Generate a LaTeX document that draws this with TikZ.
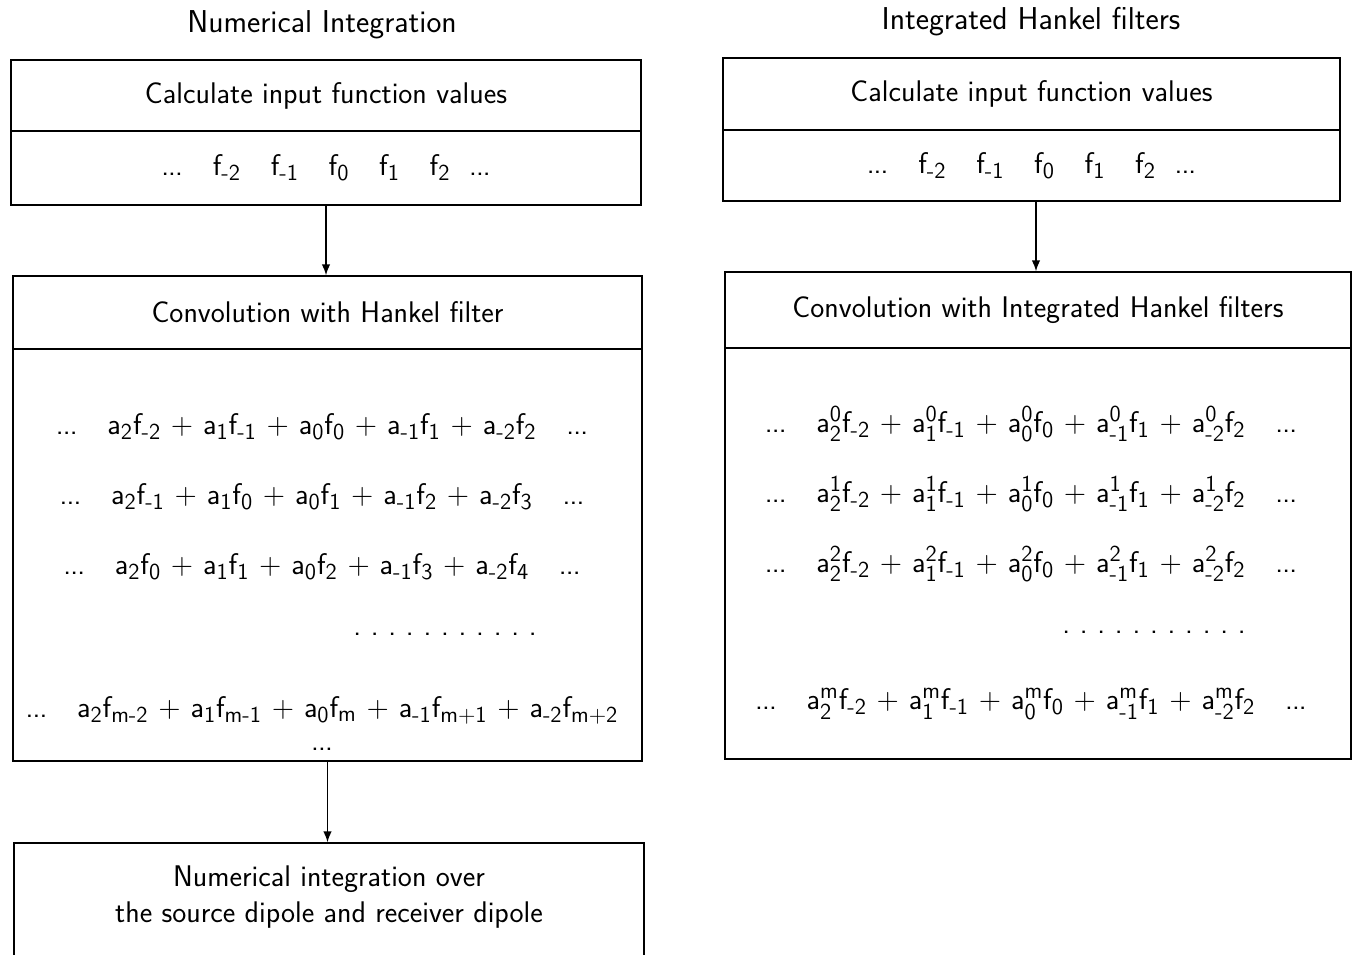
\documentclass[tikz,border=0pt]{standalone}
\usepackage{amsmath}
\usetikzlibrary{arrows.meta,positioning}
\DeclareMathSizes{17}{17}{13}{10}
\newcommand{\fv}[1]{\text{f}_{\text{#1}}}
\newcommand{\af}[2]{\text{a}_{\text{#1}}\text{f}_{\text{#2}}}
\newcommand{\amf}[3]{\text{a}^{\text{#1}}_{\text{#2}}\text{f}_{\text{#3}}}
\newcommand{\el}{\text{.\kern-0.5pt.\kern-0.5pt.}}
\newcommand{\dotrow}{\foreach \i in {1,...,11}{\makebox[10pt]{.}}}
\medmuskip=6mu plus 2mu minus 4mu

\begin{document}
\begin{tikzpicture}[x=0.02cm,y=-0.02cm,
      font=\sffamily\fontsize{17}{20}\selectfont,
      frame/.style={draw,line width=0.8pt,inner sep=0pt,align=center},
      txt/.style={inner sep=0pt,align=center},
      head/.style={inner sep=0pt,font=\sffamily\fontsize{18}{21}\selectfont},
      fl/.style={-{Latex[length=2.2mm,width=1.7mm]},line width=0.8pt}]
    \useasboundingbox (0,0) rectangle (1357,955);
    % left column: numerical integration
    \node[head] (titleL) at (322,25) {Numerical Integration};
    \node[frame,minimum width=12.6cm,minimum height=1.42cm] (hdrA) at (326,95.5) {Calculate input function values};
    \node[frame,minimum width=12.6cm,minimum height=1.48cm] (valA) at (326,168)
      {$\el\quad\fv{-2}\quad\fv{-1}\quad\fv{0}\quad\fv{1}\quad\fv{2}\ \ \el$};
    \node[frame,minimum width=12.58cm,minimum height=1.46cm] (hdrB) at (327.5,312.5) {Convolution with Hankel filter};
    \node[frame,minimum width=12.58cm,minimum height=8.24cm] (bodyB) at (327.5,555) {};
    \node[txt] (rowB1) at (322,427) {$\el\quad\af{2}{-2}+\af{1}{-1}+\af{0}{0}+\af{-1}{1}+\af{-2}{2}\quad\el$};
    \node[txt] (rowB2) at (322,497) {$\el\quad\af{2}{-1}+\af{1}{0}+\af{0}{1}+\af{-1}{2}+\af{-2}{3}\quad\el$};
    \node[txt] (rowB3) at (322,567) {$\el\quad\af{2}{0}+\af{1}{1}+\af{0}{2}+\af{-1}{3}+\af{-2}{4}\quad\el$};
    \node[txt] (dotsB) at (445,634) {\dotrow};
    \node[txt] (rowBm) at (322,710) {$\el\quad\af{2}{m-2}+\af{1}{m-1}+\af{0}{m}+\af{-1}{m+1}+\af{-2}{m+2}$};
    \node[txt] (tailB) at (322,749) {$\el$};
    \node[frame,minimum width=12.6cm,minimum height=2.6cm] (finC) at (329,908) {};
    \node[txt] (finCtxt) at (329,897) {Numerical integration over\\the source dipole and receiver dipole};
    \draw[fl] (valA.south) -- (valA.south |- hdrB.north);
    \draw[fl] (bodyB.south) -- (bodyB.south |- finC.north);
    % right column: integrated hankel filters
    \node[head] (titleR) at (1031,22) {Integrated Hankel filters};
    \node[frame,minimum width=12.34cm,minimum height=1.44cm] (hdrD) at (1031.5,94) {Calculate input function values};
    \node[frame,minimum width=12.34cm,minimum height=1.42cm] (valD) at (1031.5,165.5)
      {$\el\quad\fv{-2}\quad\fv{-1}\quad\fv{0}\quad\fv{1}\quad\fv{2}\ \ \el$};
    \node[frame,minimum width=12.52cm,minimum height=1.52cm] (hdrE) at (1038,310) {Convolution with Integrated Hankel filters};
    \node[frame,minimum width=12.52cm,minimum height=8.22cm] (bodyE) at (1038,553.5) {};
    \node[txt] (rowE0) at (1031,424) {$\el\quad\amf{0}{2}{-2}+\amf{0}{1}{-1}+\amf{0}{0}{0}+\amf{0}{-1}{1}+\amf{0}{-2}{2}\quad\el$};
    \node[txt] (rowE1) at (1031,494) {$\el\quad\amf{1}{2}{-2}+\amf{1}{1}{-1}+\amf{1}{0}{0}+\amf{1}{-1}{1}+\amf{1}{-2}{2}\quad\el$};
    \node[txt] (rowE2) at (1031,564) {$\el\quad\amf{2}{2}{-2}+\amf{2}{1}{-1}+\amf{2}{0}{0}+\amf{2}{-1}{1}+\amf{2}{-2}{2}\quad\el$};
    \node[txt] (dotsE) at (1154,632) {\dotrow};
    \node[txt] (rowEm) at (1031,704) {$\el\quad\amf{m}{2}{-2}+\amf{m}{1}{-1}+\amf{m}{0}{0}+\amf{m}{-1}{1}+\amf{m}{-2}{2}\quad\el$};
    \draw[fl] (valD.south -| 1036,0) -- (hdrE.north -| 1036,0);
\end{tikzpicture}
\end{document}
